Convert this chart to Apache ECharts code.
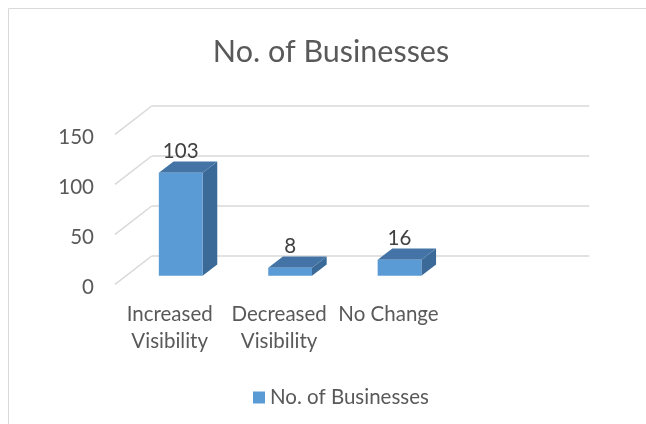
<!DOCTYPE html>
<html><head><meta charset="utf-8">
<script src="https://cdn.jsdelivr.net/npm/echarts@6/dist/echarts.min.js"></script>
<style>html,body{margin:0;padding:0;background:#fff}#c{width:646px;height:424px}</style>
</head><body><div id="c"></div>
<script>
const categories = ['Increased\nVisibility', 'Decreased\nVisibility', 'No Change'];
const values = [103, 8, 16];
const seriesName = 'No. of Businesses';
const yTicks = [0, 50, 100, 150];

const axisCats = categories.concat(['']);
const D = [-36.7, 28.3];          // depth vector: back wall -> front edge of floor
const FRONT = 0.70, BACK = 0.30;  // bar depth fractions
const txt = '#595959';
const font = 'Lato, "Liberation Sans", sans-serif';
function off(p, t) { return [p[0] + D[0] * t, p[1] + D[1] * t]; }

const chart = echarts.init(document.getElementById('c'), null, { renderer: 'canvas' });
chart.setOption({
  animation: false,
  title: { text: seriesName, left: 326, textAlign: 'center', top: 32,
    textStyle: { fontFamily: font, fontSize: 30.5, fontWeight: 'normal', color: txt } },
  legend: { data: [seriesName], left: 248, top: 382, itemWidth: 12, itemHeight: 12, icon: 'rect',
    textStyle: { fontFamily: font, fontSize: 20.5, color: txt } },
  graphic: [{ type: 'rect', silent: true, z: -10, shape: { x: 8.5, y: 8.5, width: 700, height: 500 },
    style: { fill: 'none', stroke: '#d9d9d9', lineWidth: 1 } }],
  grid: [
    { left: 151.7, right: 56.7, top: 106, height: 150 },
    { left: 115, right: 93.4, top: 137.5, height: 150 }
  ],
  xAxis: [
    { type: 'category', gridIndex: 0, data: axisCats, axisLine: { show: false }, axisTick: { show: false }, axisLabel: { show: false } },
    { type: 'category', gridIndex: 1, data: axisCats, axisLine: { show: false }, axisTick: { show: false },
      axisLabel: { fontFamily: font, fontSize: 20.5, color: txt, lineHeight: 27, margin: 13, interval: 0 } }
  ],
  yAxis: [
    { type: 'value', gridIndex: 0, min: 0, max: 150, interval: 50, axisLabel: { show: false },
      splitLine: { lineStyle: { color: '#d9d9d9', width: 1.5 } } },
    { type: 'value', gridIndex: 1, min: 0, max: 150, interval: 50, splitLine: { show: false },
      axisLabel: { fontFamily: font, fontSize: 20.5, color: txt, margin: 21 } }
  ],
  series: [
    { type: 'custom', xAxisIndex: 0, yAxisIndex: 0, silent: true, data: yTicks.map(v => [0, v]),
      renderItem(params, api) {
        const cs = params.coordSys;
        const y = api.coord([0, api.value(1)])[1];
        const p0 = [cs.x, y], p1 = off(p0, 1);
        return { type: 'line', shape: { x1: p0[0], y1: p0[1], x2: p1[0], y2: p1[1] },
          style: { stroke: '#d9d9d9', lineWidth: 1.5 } };
      } },
    { type: 'custom', name: seriesName, xAxisIndex: 0, yAxisIndex: 0, itemStyle: { color: '#5b9bd5' },
      data: values.map((v, i) => [i, v]), encode: { x: 0, y: 1 },
      renderItem(params, api) {
        const i = api.value(0), v = api.value(1);
        const top = api.coord([i, v]), base = api.coord([i, 0]);
        const hw = api.size([1, 0])[0] * 0.2;
        const fTL = off([top[0] - hw, top[1]], FRONT), fTR = off([top[0] + hw, top[1]], FRONT);
        const fBR = off([base[0] + hw, base[1]], FRONT), fBL = off([base[0] - hw, base[1]], FRONT);
        const bTL = off([top[0] - hw, top[1]], BACK), bTR = off([top[0] + hw, top[1]], BACK);
        const bBR = off([base[0] + hw, base[1]], BACK);
        return { type: 'group', children: [
          { type: 'polygon', shape: { points: [fTR, bTR, bBR, fBR] }, style: { fill: '#3b6a98' } },
          { type: 'polygon', shape: { points: [fTL, fTR, bTR, bTL] }, style: { fill: '#4474a6' } },
          { type: 'polygon', shape: { points: [fTL, fTR, fBR, fBL] }, style: { fill: '#5b9bd5' } },
          { type: 'text', style: { text: String(v), x: (fTL[0] + fTR[0]) / 2, y: bTL[1] - 10,
              align: 'center', verticalAlign: 'middle', fontFamily: font, fontSize: 20.5, fill: '#404040' } }
        ] };
      } }
  ]
});
</script></body></html>
